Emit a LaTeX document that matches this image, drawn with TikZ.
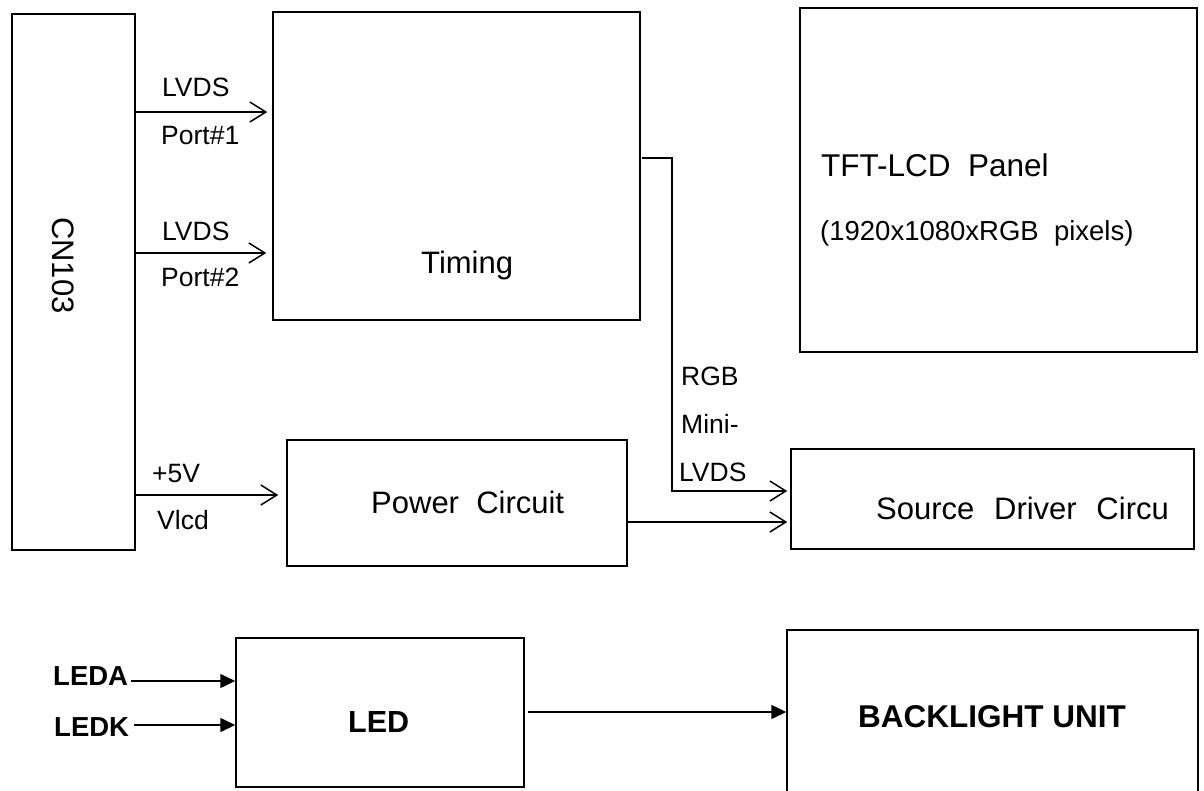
\documentclass[tikz,border=0pt]{standalone}
\usepackage{fontspec}
\setmainfont{Liberation Sans}
\usetikzlibrary{arrows.meta,positioning}

\begin{document}
\begin{tikzpicture}[
  x=1pt,y=-1pt,
  blk/.style={draw,line width=1.5pt,inner sep=0pt},
  lbl/.style={inner sep=0pt,anchor=base west,font=\fontsize{26.5}{30}\selectfont},
  big/.style={inner sep=0pt,anchor=base west,font=\fontsize{31}{36}\selectfont},
  oa/.style={-{Straight Barb[length=16pt,width=20pt,line width=1.5pt]},line width=1.5pt},
  fa/.style={-{Triangle[length=15pt,width=14pt]},line width=1.5pt}
]
\useasboundingbox (0,0) rectangle (1204,790);
% blocks
\node[blk,minimum width=123pt,minimum height=536pt] (cn) at (73.5,282) {};
\node[blk,minimum width=367pt,minimum height=308pt] (timing) at (456.5,166) {};
\node[blk,minimum width=397pt,minimum height=344pt] (tft) at (998.5,180) {};
\node[blk,minimum width=340pt,minimum height=126pt] (power) at (457,503) {};
\node[blk,minimum width=403pt,minimum height=100pt] (source) at (992.5,499) {};
\node[blk,minimum width=288pt,minimum height=149pt] (led) at (380,712.5) {};
\node[blk,minimum width=411pt,minimum height=163pt] (bl) at (992.5,711.5) {};
% block texts
\node[inner sep=0pt,anchor=base west,rotate=-90,font=\fontsize{31}{36}\selectfont] (cntxt) at (52,217) {CN103};
\node[big] (timingtxt) at (421,273) {Timing};
\node[inner sep=0pt,anchor=base west,font=\fontsize{31.5}{36}\selectfont] (tfttxt) at (821,176) {TFT-LCD\ \ Panel};
\node[inner sep=0pt,anchor=base west,font=\fontsize{27.5}{32}\selectfont] (pixtxt) at (820,240) {(1920x1080xRGB\ \ pixels)};
\node[big] (powertxt) at (371,513) {Power\ \ Circuit};
\node[big] (sourcetxt) at (876,519) {Source\hspace{2.5pt}\ \ Driver\hspace{2.5pt}\ \ Circu};
\node[inner sep=0pt,anchor=base west,font=\fontsize{30.5}{35}\selectfont\bfseries] (ledtxt) at (348,732) {LED};
\node[inner sep=0pt,anchor=base west,font=\fontsize{31.5}{36}\selectfont\bfseries] (bltxt) at (858,727) {BACKLIGHT UNIT};
% signal labels
\node[lbl] (lvdsa) at (162,96) {LVDS};
\node[lbl] (porta) at (161,144) {Port\#1};
\node[lbl] (lvdsb) at (162,240) {LVDS};
\node[lbl] (portb) at (161,286) {Port\#2};
\node[lbl] (vplus) at (152,482) {+5V};
\node[lbl] (vlcd) at (157,529) {Vlcd};
\node[lbl] (rgb) at (681,385) {RGB};
\node[lbl] (mini) at (681,433) {Mini-};
\node[lbl] (lvdsc) at (679,481) {LVDS};
\node[inner sep=0pt,anchor=base west,font=\fontsize{27.5}{32}\selectfont\bfseries] (leda) at (53,685) {LEDA};
\node[inner sep=0pt,anchor=base west,font=\fontsize{27.5}{32}\selectfont\bfseries] (ledk) at (54,736) {LEDK};
% signal levels
\coordinate (ya) at (0,112);
\coordinate (yb) at (0,253);
\coordinate (yv) at (0,495);
\coordinate (yt) at (0,158);
\coordinate (ys) at (0,491);
\coordinate (yp) at (0,522);
\coordinate (yla) at (0,681);
\coordinate (ylk) at (0,725);
% connectors
\draw[oa,shorten >=5pt] (cn.east |- ya) -- (timing.west |- ya);
\draw[oa,shorten >=6pt] (cn.east |- yb) -- (timing.west |- yb);
\draw[oa,shorten >=8pt] (cn.east |- yv) -- (power.west |- yv);
\draw[oa,shorten >=3pt] ([xshift=1pt]timing.east |- yt) -- ++(30,0) |- (source.west |- ys);
\draw[oa,shorten >=3pt] (power.east |- yp) -- (source.west |- yp);
\draw[fa] ([xshift=3pt]leda.east |- yla) -- (led.west |- yla);
\draw[fa] ([xshift=5pt]ledk.east |- ylk) -- (led.west |- ylk);
\draw[fa] ([xshift=3pt]led.east |- 0,712) -- (bl.west |- 0,712);
\end{tikzpicture}
\end{document}
